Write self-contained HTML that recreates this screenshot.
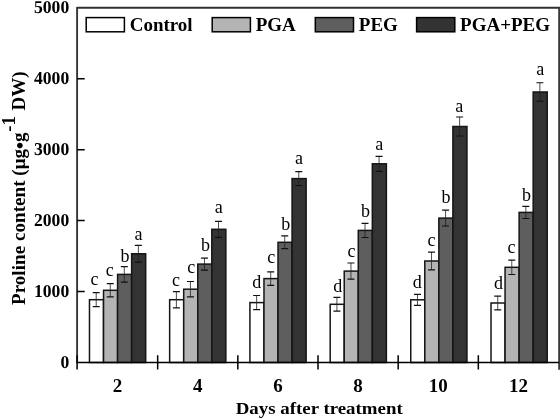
<!DOCTYPE html>
<html><head><meta charset="utf-8"><style>
html,body{margin:0;padding:0;background:#fff;width:560px;height:419px;overflow:hidden}
svg{display:block;filter:blur(0.35px)}
text{font-family:"Liberation Serif",serif;fill:#000}
.l{font-size:18px;text-anchor:middle}
.yt{text-rendering:geometricPrecision;font-size:17.6px;font-weight:bold;text-anchor:end}
.xt{font-size:19px;font-weight:bold;text-anchor:middle}
.xl{font-size:18.9px;font-weight:bold;text-anchor:middle}
.lg{font-size:19px;font-weight:bold}
.yl{font-size:19px;font-weight:bold}
</style></head><body>
<svg width="560" height="419" viewBox="0 0 560 419">
<rect x="89.48" y="299.70" width="14.05" height="62.80" fill="#ffffff" stroke="#151515" stroke-width="1.5"/>
<rect x="103.53" y="290.30" width="14.05" height="72.20" fill="#b4b4b4" stroke="#151515" stroke-width="1.5"/>
<rect x="117.58" y="274.40" width="14.05" height="88.10" fill="#5e5e5e" stroke="#151515" stroke-width="1.5"/>
<rect x="131.63" y="253.75" width="14.05" height="108.75" fill="#333333" stroke="#151515" stroke-width="1.5"/>
<rect x="169.65" y="299.70" width="14.05" height="62.80" fill="#ffffff" stroke="#151515" stroke-width="1.5"/>
<rect x="183.70" y="289.20" width="14.05" height="73.30" fill="#b4b4b4" stroke="#151515" stroke-width="1.5"/>
<rect x="197.75" y="264.10" width="14.05" height="98.40" fill="#5e5e5e" stroke="#151515" stroke-width="1.5"/>
<rect x="211.80" y="229.30" width="14.05" height="133.20" fill="#333333" stroke="#151515" stroke-width="1.5"/>
<rect x="249.92" y="302.60" width="14.05" height="59.90" fill="#ffffff" stroke="#151515" stroke-width="1.5"/>
<rect x="263.97" y="278.60" width="14.05" height="83.90" fill="#b4b4b4" stroke="#151515" stroke-width="1.5"/>
<rect x="278.02" y="242.30" width="14.05" height="120.20" fill="#5e5e5e" stroke="#151515" stroke-width="1.5"/>
<rect x="292.07" y="178.60" width="14.05" height="183.90" fill="#333333" stroke="#151515" stroke-width="1.5"/>
<rect x="330.18" y="304.30" width="14.05" height="58.20" fill="#ffffff" stroke="#151515" stroke-width="1.5"/>
<rect x="344.23" y="271.10" width="14.05" height="91.40" fill="#b4b4b4" stroke="#151515" stroke-width="1.5"/>
<rect x="358.28" y="230.40" width="14.05" height="132.10" fill="#5e5e5e" stroke="#151515" stroke-width="1.5"/>
<rect x="372.33" y="163.80" width="14.05" height="198.70" fill="#333333" stroke="#151515" stroke-width="1.5"/>
<rect x="410.75" y="299.80" width="14.05" height="62.70" fill="#ffffff" stroke="#151515" stroke-width="1.5"/>
<rect x="424.80" y="261.00" width="14.05" height="101.50" fill="#b4b4b4" stroke="#151515" stroke-width="1.5"/>
<rect x="438.85" y="218.10" width="14.05" height="144.40" fill="#5e5e5e" stroke="#151515" stroke-width="1.5"/>
<rect x="452.90" y="126.50" width="14.05" height="236.00" fill="#333333" stroke="#151515" stroke-width="1.5"/>
<rect x="491.02" y="303.00" width="14.05" height="59.50" fill="#ffffff" stroke="#151515" stroke-width="1.5"/>
<rect x="505.07" y="267.30" width="14.05" height="95.20" fill="#b4b4b4" stroke="#151515" stroke-width="1.5"/>
<rect x="519.12" y="212.40" width="14.05" height="150.10" fill="#5e5e5e" stroke="#151515" stroke-width="1.5"/>
<rect x="533.17" y="92.00" width="14.05" height="270.50" fill="#333333" stroke="#151515" stroke-width="1.5"/>
<path d="M96.21 292.70V306.70" stroke="#222" stroke-width="0.8" fill="none"/>
<path d="M92.71 292.70H99.71M92.71 306.70H99.71" stroke="#111" stroke-width="1.2" fill="none"/>
<text x="94.61" y="285" class="l">c</text>
<path d="M110.26 283.70V296.90" stroke="#222" stroke-width="0.8" fill="none"/>
<path d="M106.76 283.70H113.76M106.76 296.90H113.76" stroke="#111" stroke-width="1.2" fill="none"/>
<text x="109.86" y="276" class="l">c</text>
<path d="M124.31 266.60V282.20" stroke="#222" stroke-width="0.8" fill="none"/>
<path d="M120.81 266.60H127.81M120.81 282.20H127.81" stroke="#111" stroke-width="1.2" fill="none"/>
<text x="125.01" y="262" class="l">b</text>
<path d="M138.36 245.30V262.20" stroke="#222" stroke-width="0.8" fill="none"/>
<path d="M134.86 245.30H141.86M134.86 262.20H141.86" stroke="#111" stroke-width="1.2" fill="none"/>
<text x="138.46" y="240" class="l">a</text>
<path d="M176.38 291.55V307.85" stroke="#222" stroke-width="0.8" fill="none"/>
<path d="M172.88 291.55H179.88M172.88 307.85H179.88" stroke="#111" stroke-width="1.2" fill="none"/>
<text x="175.98" y="286" class="l">c</text>
<path d="M190.43 281.50V296.90" stroke="#222" stroke-width="0.8" fill="none"/>
<path d="M186.93 281.50H193.93M186.93 296.90H193.93" stroke="#111" stroke-width="1.2" fill="none"/>
<text x="191.13" y="273" class="l">c</text>
<path d="M204.48 258.10V270.10" stroke="#222" stroke-width="0.8" fill="none"/>
<path d="M200.98 258.10H207.98M200.98 270.10H207.98" stroke="#111" stroke-width="1.2" fill="none"/>
<text x="205.38" y="251" class="l">b</text>
<path d="M218.53 221.30V237.30" stroke="#222" stroke-width="0.8" fill="none"/>
<path d="M215.03 221.30H222.03M215.03 237.30H222.03" stroke="#111" stroke-width="1.2" fill="none"/>
<text x="218.83" y="213" class="l">a</text>
<path d="M256.64 295.50V309.70" stroke="#222" stroke-width="0.8" fill="none"/>
<path d="M253.14 295.50H260.14M253.14 309.70H260.14" stroke="#111" stroke-width="1.2" fill="none"/>
<text x="256.84" y="288" class="l">d</text>
<path d="M270.69 271.90V285.30" stroke="#222" stroke-width="0.8" fill="none"/>
<path d="M267.19 271.90H274.19M267.19 285.30H274.19" stroke="#111" stroke-width="1.2" fill="none"/>
<text x="271.34" y="263" class="l">c</text>
<path d="M284.74 235.90V248.70" stroke="#222" stroke-width="0.8" fill="none"/>
<path d="M281.24 235.90H288.24M281.24 248.70H288.24" stroke="#111" stroke-width="1.2" fill="none"/>
<text x="285.84" y="230" class="l">b</text>
<path d="M298.79 171.70V185.50" stroke="#222" stroke-width="0.8" fill="none"/>
<path d="M295.29 171.70H302.29M295.29 185.50H302.29" stroke="#111" stroke-width="1.2" fill="none"/>
<text x="298.99" y="164" class="l">a</text>
<path d="M336.91 297.40V311.20" stroke="#222" stroke-width="0.8" fill="none"/>
<path d="M333.41 297.40H340.41M333.41 311.20H340.41" stroke="#111" stroke-width="1.2" fill="none"/>
<text x="337.71" y="292" class="l">d</text>
<path d="M350.96 263.00V279.20" stroke="#222" stroke-width="0.8" fill="none"/>
<path d="M347.46 263.00H354.46M347.46 279.20H354.46" stroke="#111" stroke-width="1.2" fill="none"/>
<text x="351.51" y="257" class="l">c</text>
<path d="M365.01 223.30V237.50" stroke="#222" stroke-width="0.8" fill="none"/>
<path d="M361.51 223.30H368.51M361.51 237.50H368.51" stroke="#111" stroke-width="1.2" fill="none"/>
<text x="365.61" y="217" class="l">b</text>
<path d="M379.06 156.30V171.30" stroke="#222" stroke-width="0.8" fill="none"/>
<path d="M375.56 156.30H382.56M375.56 171.30H382.56" stroke="#111" stroke-width="1.2" fill="none"/>
<text x="379.16" y="150" class="l">a</text>
<path d="M417.48 294.30V305.30" stroke="#222" stroke-width="0.8" fill="none"/>
<path d="M413.98 294.30H420.98M413.98 305.30H420.98" stroke="#111" stroke-width="1.2" fill="none"/>
<text x="417.18" y="288" class="l">d</text>
<path d="M431.53 252.10V269.90" stroke="#222" stroke-width="0.8" fill="none"/>
<path d="M428.03 252.10H435.03M428.03 269.90H435.03" stroke="#111" stroke-width="1.2" fill="none"/>
<text x="431.53" y="246" class="l">c</text>
<path d="M445.58 210.20V226.00" stroke="#222" stroke-width="0.8" fill="none"/>
<path d="M442.08 210.20H449.08M442.08 226.00H449.08" stroke="#111" stroke-width="1.2" fill="none"/>
<text x="446.08" y="203" class="l">b</text>
<path d="M459.63 117.00V136.00" stroke="#222" stroke-width="0.8" fill="none"/>
<path d="M456.13 117.00H463.13M456.13 136.00H463.13" stroke="#111" stroke-width="1.2" fill="none"/>
<text x="459.33" y="112" class="l">a</text>
<path d="M497.74 296.10V309.90" stroke="#222" stroke-width="0.8" fill="none"/>
<path d="M494.24 296.10H501.24M494.24 309.90H501.24" stroke="#111" stroke-width="1.2" fill="none"/>
<text x="498.59" y="289" class="l">d</text>
<path d="M511.79 260.10V274.50" stroke="#222" stroke-width="0.8" fill="none"/>
<path d="M508.29 260.10H515.29M508.29 274.50H515.29" stroke="#111" stroke-width="1.2" fill="none"/>
<text x="511.39" y="253" class="l">c</text>
<path d="M525.84 206.30V218.50" stroke="#222" stroke-width="0.8" fill="none"/>
<path d="M522.34 206.30H529.34M522.34 218.50H529.34" stroke="#111" stroke-width="1.2" fill="none"/>
<text x="526.49" y="201" class="l">b</text>
<path d="M539.89 82.75V101.25" stroke="#222" stroke-width="0.8" fill="none"/>
<path d="M536.39 82.75H543.39M536.39 101.25H543.39" stroke="#111" stroke-width="1.2" fill="none"/>
<text x="540.29" y="75" class="l">a</text>
<path d="M77.1 6.8999999999999995V363.2" stroke="#363636" stroke-width="1.9" fill="none"/>
<path d="M77.1 7.7H560.2" stroke="#303030" stroke-width="1.9" fill="none"/>
<path d="M559.2 7.7V369.7" stroke="#3a3a3a" stroke-width="2" fill="none"/>
<path d="M77.1 362.5H559.2" stroke="#000" stroke-width="1.5" fill="none"/>
<text transform="translate(69.2 367.55) scale(1 1.03)" class="yt">0</text>
<text transform="translate(69.2 296.61) scale(1 1.03)" class="yt">1000</text>
<text transform="translate(69.2 225.67) scale(1 1.03)" class="yt">2000</text>
<text transform="translate(69.2 154.73) scale(1 1.03)" class="yt">3000</text>
<text transform="translate(69.2 83.79) scale(1 1.03)" class="yt">4000</text>
<text transform="translate(69.2 12.85) scale(1 1.03)" class="yt">5000</text>
<path d="M77.1 291.56h7.6 M77.1 220.62h7.6 M77.1 149.68h7.6 M77.1 78.74h7.6 M77.10 355.2V369.5 M157.67 355.2V369.5 M237.83 355.2V369.5 M318.00 355.2V369.5 M398.17 355.2V369.5 M478.33 355.2V369.5" stroke="#000" stroke-width="1.5" fill="none"/>
<text transform="translate(117.58 391.7) scale(1 0.95)" class="xt">2</text>
<text transform="translate(197.75 391.7) scale(1 0.95)" class="xt">4</text>
<text transform="translate(277.92 391.7) scale(1 0.95)" class="xt">6</text>
<text transform="translate(358.08 391.7) scale(1 0.95)" class="xt">8</text>
<text transform="translate(438.25 391.7) scale(1 0.95)" class="xt">10</text>
<text transform="translate(518.42 391.7) scale(1 0.95)" class="xt">12</text>
<text transform="translate(319.2 414.4) scale(1 0.92)" class="xl">Days after treatment</text>
<rect x="86.2" y="17.6" width="38.2" height="14.2" fill="#ffffff" stroke="#000" stroke-width="1.5"/>
<text transform="translate(129.70 30.5) scale(1 0.95)" class="lg">Control</text>
<rect x="212.2" y="17.6" width="38.2" height="14.2" fill="#b4b4b4" stroke="#000" stroke-width="1.5"/>
<text transform="translate(255.70 30.5) scale(1 0.95)" class="lg">PGA</text>
<rect x="315.3" y="17.6" width="38.2" height="14.2" fill="#5e5e5e" stroke="#000" stroke-width="1.5"/>
<text transform="translate(358.80 30.5) scale(1 0.95)" class="lg">PEG</text>
<rect x="416.6" y="17.6" width="38.2" height="14.2" fill="#333333" stroke="#000" stroke-width="1.5"/>
<text transform="translate(460.10 30.5) scale(1 0.95)" class="lg">PGA+PEG</text>
<text transform="translate(25 305) rotate(-90)" class="yl"><tspan x="0" textLength="156.1" lengthAdjust="spacing">Proline content (μg</tspan><tspan x="155.8" dy="2" style="font-size:21px">•</tspan><tspan x="162.9" dy="-2">g</tspan><tspan x="173.2" dy="-10.5">-1</tspan><tspan x="189.7" dy="10.5"> DW)</tspan></text>
</svg>
</body></html>
